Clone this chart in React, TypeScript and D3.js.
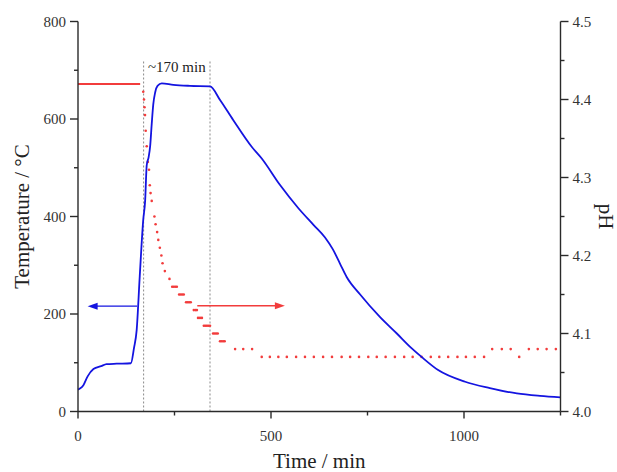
import React from 'react';
import * as d3 from 'd3';

// Temperature series (blue)
const tempTime = [0, 5, 14, 25, 40, 60, 74, 100, 137, 145, 152, 160, 169, 174, 178, 183, 187, 191, 195, 200, 206, 217, 247, 290, 342, 368, 402, 450, 476, 523, 571, 610, 640, 660, 679, 696, 731, 782, 826, 864, 890, 933, 1003, 1067, 1137, 1197, 1250];
const tempValue = [45, 47, 54, 72, 87, 93, 97, 98, 99, 130, 167, 278, 393, 433, 505, 522, 545, 590, 630, 655, 668, 673, 670, 668, 667, 639, 598, 543, 519, 465, 417, 383, 357, 333, 303, 276, 240, 194, 160, 130, 112, 85, 61, 48, 37, 32, 29];

// pH series (red)
const phLineTime = [0, 161];
const phLineValue = [4.42, 4.42];
const phTime = [169, 171, 172.3, 173.6, 175.4, 178, 181, 184, 186, 188, 191, 198, 201, 205, 208, 212, 216, 219, 225, 237,
  244, 248, 252, 256, 262, 266, 270, 274, 280, 284, 288, 292, 300, 304, 308, 311, 316, 321, 326, 330, 334, 338, 342,
  350, 354, 358, 362, 368, 372, 376, 380, 407, 428, 451,
  476, 497, 519, 541, 565, 588, 611, 635, 658, 683, 705, 728, 752, 774, 797, 821, 845, 867, 890, 914, 936, 959, 983, 1005, 1028, 1052,
  1073, 1098, 1121, 1143, 1168, 1191, 1214, 1238];
const phValue = [4.41, 4.40, 4.39, 4.38, 4.36, 4.34, 4.32, 4.31, 4.29, 4.28, 4.27, 4.25, 4.24, 4.23, 4.22, 4.21, 4.20, 4.19, 4.18, 4.17,
  4.16, 4.16, 4.16, 4.16, 4.15, 4.15, 4.15, 4.15, 4.14, 4.14, 4.14, 4.14, 4.13, 4.13, 4.13, 4.12, 4.12, 4.12, 4.11, 4.11, 4.11, 4.11, 4.11,
  4.10, 4.10, 4.10, 4.10, 4.09, 4.09, 4.09, 4.09, 4.08, 4.08, 4.08,
  4.07, 4.07, 4.07, 4.07, 4.07, 4.07, 4.07, 4.07, 4.07, 4.07, 4.07, 4.07, 4.07, 4.07, 4.07, 4.07, 4.07, 4.07, 4.07, 4.07, 4.07, 4.07, 4.07, 4.07, 4.07, 4.07,
  4.08, 4.08, 4.08, 4.07, 4.08, 4.08, 4.08, 4.08];

// Ticks
const xMajorTicks = [0, 500, 1000];
const xMinorTicks = [250, 750, 1250];
const tempMajorTicks = [0, 200, 400, 600, 800];
const tempMinorTicks = [100, 300, 500, 700];
const phMajorTicks = [4.0, 4.1, 4.2, 4.3, 4.4, 4.5];
const phMinorTicks = [4.05, 4.15, 4.25, 4.35, 4.45];

// Annotations
const markerTimes = [170, 342];
const markerTop = 718;
const blueArrowTime = [153, 25];
const blueArrowTemp = 216;
const redArrowTime = [309, 536];
const redArrowPh = 4.1356;

const W = 617;
const H = 472;
const FONT = "'Liberation Serif', 'DejaVu Serif', serif";
const BLUE = '#1414e0';
const RED = '#f23c3c';
const AXIS = '#2a2a2a';

export default function App() {
  const x = d3.scaleLinear().domain([0, 1250]).range([78, 560.5]);
  const yT = d3.scaleLinear().domain([0, 800]).range([411.5, 21.5]);
  const yP = d3.scaleLinear().domain([4.0, 4.5]).range([411.5, 21.5]);

  const tempLine = d3.line<number>()
    .x((_, i) => x(tempTime[i]))
    .y((d) => yT(d))
    .curve(d3.curveMonotoneX)(tempValue) || '';

  const x0 = x(0), x1 = x(1250), yb = yT(0), yt = yT(800);

  const arrow = (xa: number, xb: number, y: number, color: string) => {
    const dir = xb > xa ? 1 : -1;
    const len = 10, hw = 3.5;
    return (
      <g>
        <line x1={xa} y1={y} x2={xb - dir * len * 0.8} y2={y} stroke={color} strokeWidth={1.3} />
        <path d={`M${xb},${y} L${xb - dir * len},${y - hw} L${xb - dir * len},${y + hw} Z`} fill={color} />
      </g>
    );
  };

  return (
    <svg width={W} height={H} style={{ position: 'absolute', left: 0, top: 0, background: '#fff' }} fontFamily={FONT}>
      <rect x={0} y={0} width={W} height={H} fill="#fff" />
      {/* marker lines */}
      {markerTimes.map((t) => (
        <line key={t} x1={x(t)} x2={x(t)} y1={yT(markerTop)} y2={yb} stroke="#8a8a8a" strokeWidth={1} strokeDasharray="2,2" />
      ))}
      <text x={(x(markerTimes[0]) + x(markerTimes[1])) / 2} y={yT(markerTop) + 11} textAnchor="middle" fontSize={15} fill="#222">~170 min</text>

      {/* pH baseline */}
      <line x1={x(phLineTime[0])} x2={x(phLineTime[1])} y1={yP(phLineValue[0])} y2={yP(phLineValue[1])} stroke={RED} strokeWidth={2} />
      {phTime.map((t, i) => (
        <circle key={i} cx={x(t)} cy={yP(phValue[i])} r={1.3} fill={RED} />
      ))}

      {/* temperature */}
      <path d={tempLine} fill="none" stroke={BLUE} strokeWidth={1.8} strokeLinejoin="round" />

      {/* arrows */}
      {arrow(x(blueArrowTime[0]), x(blueArrowTime[1]), yT(blueArrowTemp), BLUE)}
      {arrow(x(redArrowTime[0]), x(redArrowTime[1]), yP(redArrowPh), RED)}

      {/* axes */}
      <g stroke={AXIS} strokeWidth={1.4} fill="none">
        <line x1={x0} x2={x1} y1={yb} y2={yb} />
        <line x1={x0} x2={x0} y1={yb} y2={yt} />
        <line x1={x1} x2={x1} y1={yb} y2={yt} />
        {xMajorTicks.map((t) => <line key={'xM' + t} x1={x(t)} x2={x(t)} y1={yb} y2={yb + 7} />)}
        {xMinorTicks.map((t) => <line key={'xm' + t} x1={x(t)} x2={x(t)} y1={yb} y2={yb + 4} />)}
        {tempMajorTicks.map((t) => <line key={'tM' + t} x1={x0 - 8} x2={x0} y1={yT(t)} y2={yT(t)} />)}
        {tempMinorTicks.map((t) => <line key={'tm' + t} x1={x0 - 4} x2={x0} y1={yT(t)} y2={yT(t)} />)}
        {phMajorTicks.map((t) => <line key={'pM' + t} x1={x1} x2={x1 + 8} y1={yP(t)} y2={yP(t)} />)}
        {phMinorTicks.map((t) => <line key={'pm' + t} x1={x1} x2={x1 + 4} y1={yP(t)} y2={yP(t)} />)}
      </g>
      <g fontSize={15} fill="#333">
        {xMajorTicks.map((t) => (
          <text key={'xl' + t} x={x(t)} y={yb + 29} textAnchor="middle">{t}</text>
        ))}
        {tempMajorTicks.map((t) => (
          <text key={'tl' + t} x={x0 - 12} y={yT(t) + 5} textAnchor="end">{t}</text>
        ))}
        {phMajorTicks.map((t) => (
          <text key={'pl' + t} x={x1 + 12} y={yP(t) + 5} textAnchor="start">{t.toFixed(1)}</text>
        ))}
      </g>
      <g fontSize={21} fill="#222">
        <text x={(x0 + x1) / 2} y={468} textAnchor="middle">Time / min</text>
        <text transform={`translate(29,${(yb + yt) / 2}) rotate(-90)`} textAnchor="middle">Temperature / °C</text>
        <text transform={`translate(599,${(yb + yt) / 2}) rotate(90)`} textAnchor="middle">pH</text>
      </g>
    </svg>
  );
}
